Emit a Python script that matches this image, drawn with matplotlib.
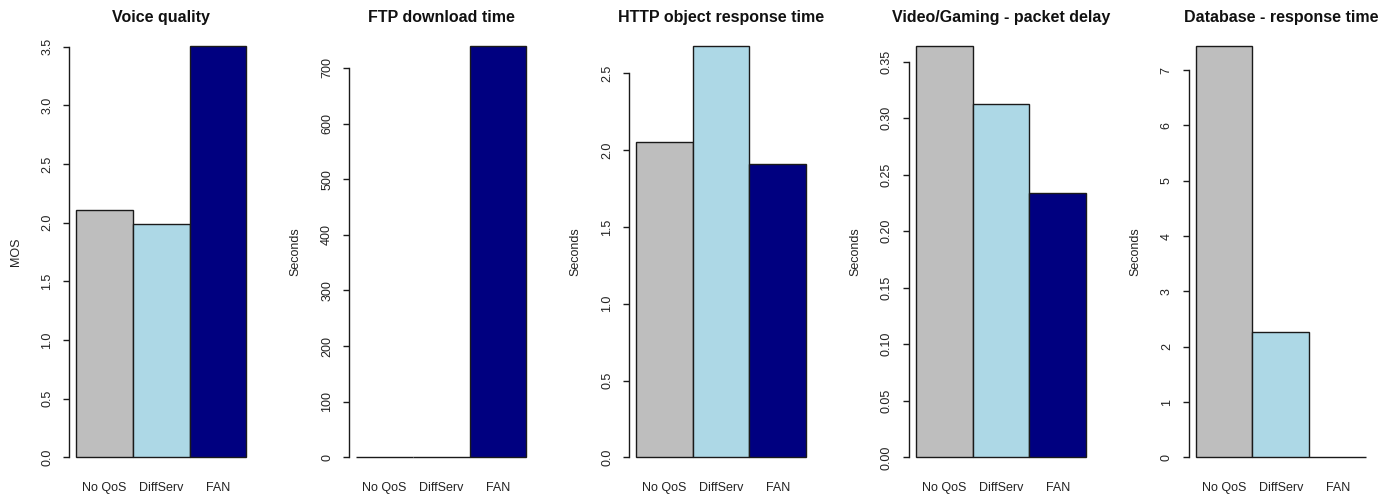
import numpy as np
import matplotlib
matplotlib.use("Agg")
import matplotlib.pyplot as plt

plt.rcParams["font.family"] = ["Liberation Sans", "DejaVu Sans"]

# ── Data ────────────────────────────────────────────────────────────────────
categories = ["No QoS", "DiffServ", "FAN"]
colors     = ["#BEBEBE", "#ADD8E6", "#000080"]

titles  = ["Voice quality", "FTP download time", "HTTP object response time",
           "Video/Gaming - packet delay", "Database - response time"]
ylabels = ["MOS", "Seconds", "Seconds", "Seconds", "Seconds"]

voice_mos     = [2.11, 1.99, 3.51]
ftp_time      = [0.0, 0.0, 740.0]
http_time     = [2.05, 2.68, 1.91]
video_delay   = [0.364, 0.312, 0.234]
database_time = [7.44, 2.27, 0.0]
series = [voice_mos, ftp_time, http_time, video_delay, database_time]

# R pretty() ticks and label formats per panel
tick_steps = [0.5, 100, 0.5, 0.05, 1]
tick_fmts  = ["{:.1f}", "{:.0f}", "{:.1f}", "{:.2f}", "{:.0f}"]

# ── Figure layout (pixel based, R barplot look) ─────────────────────────────
W, H = 1392, 495
fig = plt.figure(figsize=(W / 100, H / 100), dpi=100)
fig.patch.set_facecolor("white")

ax_w   = 184.1
top_px = 29.2
bot_px = 473.8

for i, (vals, title, ylab) in enumerate(zip(series, titles, ylabels)):
    left_px = 69.2 + i * 279.9
    ax = fig.add_axes([left_px / W, 1 - bot_px / H, ax_w / W, (bot_px - top_px) / H])

    x = np.arange(len(vals)) + 0.5
    ax.bar(x, vals, width=1.0, color=colors, edgecolor="#1a1a1a", linewidth=1.0)

    vmax = max(vals)
    ax.set_xlim(-0.12, 3.12)
    ax.set_ylim(-0.04 * vmax, 1.04 * vmax)

    step = tick_steps[i]
    ticks = np.arange(0, vmax + 1e-9, step)
    ax.set_yticks(ticks)
    ax.set_yticklabels([tick_fmts[i].format(t) for t in ticks],
                       rotation=90, va="center")
    ax.set_xticks(x)
    ax.set_xticklabels(categories)

    for s in ["top", "right", "bottom"]:
        ax.spines[s].set_visible(False)
    ax.spines["left"].set_bounds(0, ticks[-1])
    ax.spines["left"].set_linewidth(1.0)
    ax.spines["left"].set_color("#1a1a1a")

    ax.tick_params(axis="y", length=4, width=1.0, color="#1a1a1a",
                   pad=7.5, labelsize=9, labelcolor="#222222")
    ax.tick_params(axis="x", length=0, pad=6, labelsize=9, labelcolor="#222222")

    ax.set_title(title, fontsize=11.5, fontweight="bold", pad=5, color="#111111")
    ax.set_ylabel(ylab, fontsize=9, color="#222222", va="center")
    ax.yaxis.set_label_coords(-0.289, 0.5)

fig.savefig("out.png", dpi=100, facecolor="white")
